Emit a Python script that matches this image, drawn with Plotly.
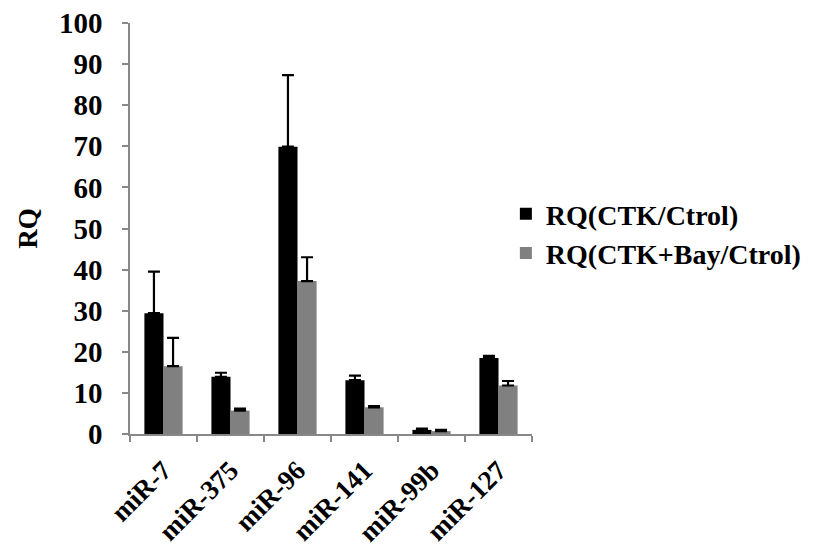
import plotly.graph_objects as go

# miRNA targets on the x axis
categories = ["miR-7", "miR-375", "miR-96", "miR-141", "miR-99b", "miR-127"]

# Relative quantity for each treatment and the top of its error bar
rq_ctk = [29.4, 13.9, 69.9, 13.1, 1.0, 18.5]
rq_ctk_err_top = [39.5, 14.9, 87.3, 14.2, 1.3, 19.0]
rq_ctk_bay = [16.5, 5.7, 37.2, 6.5, 0.7, 11.8]
rq_ctk_bay_err_top = [23.4, 6.2, 43.0, 6.8, 1.0, 12.9]

y_ticks = list(range(0, 101, 10))

FONT = "Liberation Serif, Times New Roman, serif"


def upper_error(values, tops):
    return dict(
        type="data",
        symmetric=False,
        array=[t - v for v, t in zip(values, tops)],
        arrayminus=[0] * len(values),
        color="black",
        thickness=2.2,
        width=6,
    )


fig = go.Figure()
fig.add_trace(go.Bar(
    x=categories, y=rq_ctk, name="RQ(CTK/Ctrol)",
    marker=dict(color="#000000", line=dict(width=0)),
    error_y=upper_error(rq_ctk, rq_ctk_err_top),
))
fig.add_trace(go.Bar(
    x=categories, y=rq_ctk_bay, name="RQ(CTK+Bay/Ctrol)",
    marker=dict(color="#808080", line=dict(width=0)),
    error_y=upper_error(rq_ctk_bay, rq_ctk_bay_err_top),
))

bold = dict(family=FONT, color="black", weight="bold")

fig.update_layout(
    width=818, height=554,
    margin=dict(l=130, r=286, t=23, b=120, autoexpand=False),
    paper_bgcolor="white", plot_bgcolor="white",
    barmode="group", bargap=0.43, bargroupgap=0,
    font=dict(family=FONT, size=26, color="black"),
    showlegend=True,
    legend=dict(
        x=0.935, y=0.488, xanchor="left", yanchor="middle",
        font=dict(size=28, **bold),
        tracegroupgap=6, itemwidth=30, bgcolor="rgba(0,0,0,0)",
    ),
)

fig.update_xaxes(
    type="category", automargin=False,
    showline=True, linecolor="#888888", linewidth=1.5,
    ticks="outside", tickson="boundaries", ticklen=6, tickcolor="#888888", tickwidth=1.5,
    tickangle=-45,
    ticklabelstandoff=8,
    tickfont=dict(size=27, **bold),
    showgrid=False, zeroline=False,
)
fig.update_yaxes(
    range=[0, 100], automargin=False,
    tickvals=y_ticks, ticktext=[str(v) for v in y_ticks],
    showline=True, linecolor="#888888", linewidth=1.5,
    ticks="outside", ticklen=6, tickcolor="#888888", tickwidth=1.5,
    ticklabelstandoff=14,
    tickfont=dict(size=29, **bold),
    showgrid=False, zeroline=False,
    title=dict(text="RQ", font=dict(size=27, **bold), standoff=14),
)

fig.write_html("out.html")
